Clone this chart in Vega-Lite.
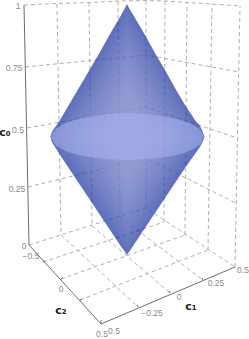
{"$schema":"https://vega.github.io/schema/vega-lite/v6.json","width":249,"height":339,"autosize":{"type":"none"},"padding":0,"background":"white","view":{"stroke":null},"config":{"axis":{"disable":true},"legend":{"disable":true}},
"datasets":{
"grid":[
{"g":"t","x":24,"y":5},{"g":"t","x":57,"y":3.5},{"g":"t","x":89,"y":2.5},{"g":"t","x":120,"y":1},{"g":"t","x":146,"y":0.5},{"g":"t","x":165,"y":1},{"g":"t","x":187,"y":2.5},{"g":"t","x":212,"y":4},{"g":"t","x":240,"y":6},
{"g":"a","x":25,"y":67},{"g":"a","x":146,"y":55},{"g":"a","x":239,"y":72},
{"g":"b","x":27,"y":128},{"g":"b","x":146,"y":107},{"g":"b","x":237,"y":138},
{"g":"c","x":28,"y":187},{"g":"c","x":146,"y":158},{"g":"c","x":236,"y":203},
{"g":"d","x":29,"y":245},{"g":"d","x":146,"y":208},{"g":"d","x":235,"y":267},
{"g":"v1","x":57,"y":4},{"g":"v1","x":61,"y":235},
{"g":"v2","x":89,"y":2.5},{"g":"v2","x":92,"y":226},
{"g":"v3","x":118,"y":1},{"g":"v3","x":120,"y":217},
{"g":"v4","x":146,"y":0.5},{"g":"v4","x":146,"y":208},
{"g":"v5","x":165,"y":1},{"g":"v5","x":164,"y":222},
{"g":"v6","x":187,"y":2.5},{"g":"v6","x":185,"y":235},
{"g":"v7","x":212,"y":4},{"g":"v7","x":208,"y":250},
{"g":"v8","x":240,"y":6},{"g":"v8","x":235,"y":267},
{"g":"f1","x":61,"y":235},{"g":"f1","x":138,"y":307},
{"g":"f2","x":92,"y":226},{"g":"f2","x":170,"y":293},
{"g":"f3","x":120,"y":217},{"g":"f3","x":203,"y":280},
{"g":"f4","x":43,"y":262},{"g":"f4","x":164,"y":222},
{"g":"f5","x":61,"y":279},{"g":"f5","x":185,"y":235},
{"g":"f6","x":80,"y":300},{"g":"f6","x":208,"y":250}
],
"axes":[
{"g":"c0","x":24,"y":5},{"g":"c0","x":29,"y":245},
{"g":"c2","x":29,"y":245},{"g":"c2","x":101,"y":324},
{"g":"c1","x":101,"y":324},{"g":"c1","x":235,"y":267},
{"g":"t1","x":43,"y":262},{"g":"t1","x":45,"y":261},
{"g":"t2","x":61,"y":279},{"g":"t2","x":63,"y":278},
{"g":"t3","x":80,"y":300},{"g":"t3","x":82,"y":299},
{"g":"t4","x":101,"y":324},{"g":"t4","x":101,"y":320},
{"g":"t5","x":138,"y":307},{"g":"t5","x":137,"y":305},
{"g":"t6","x":170,"y":293},{"g":"t6","x":169,"y":291},
{"g":"t7","x":203,"y":280},{"g":"t7","x":202,"y":278}
],
"body":[
{"x":50.5,"top":137,"bot":137},{"x":51.5,"top":133,"bot":141},{"x":53,"top":130,"bot":144},{"x":56,"top":126,"bot":148.5},{"x":60,"top":120,"bot":155},{"x":70,"top":103,"bot":170},{"x":80,"top":86,"bot":185},{"x":90,"top":69,"bot":200},{"x":100,"top":52,"bot":215},{"x":110,"top":34,"bot":230},{"x":120,"top":17,"bot":245},{"x":125,"top":8,"bot":252},{"x":127,"top":4,"bot":255},{"x":129,"top":8,"bot":252},{"x":135,"top":18,"bot":243},{"x":145,"top":35,"bot":228},{"x":155,"top":53,"bot":213},{"x":165,"top":70,"bot":198},{"x":175,"top":88,"bot":183},{"x":185,"top":105,"bot":168},{"x":195,"top":120,"bot":154},{"x":200,"top":126,"bot":147},{"x":202,"top":130,"bot":143},{"x":203.5,"top":134,"bot":140},{"x":204.5,"top":137,"bot":137}
],
"bands":[
{"b":1,"x":54.4,"top":137,"bot":137},{"b":1,"x":127.5,"top":11.6,"bot":249.1},{"b":1,"x":200.6,"top":137,"bot":137},
{"b":2,"x":58.2,"top":137,"bot":137},{"b":2,"x":127.5,"top":18.2,"bot":243.2},{"b":2,"x":196.8,"top":137,"bot":137},
{"b":3,"x":62,"top":137,"bot":137},{"b":3,"x":127.5,"top":24.8,"bot":237.3},{"b":3,"x":193,"top":137,"bot":137},
{"b":4,"x":65.9,"top":137,"bot":137},{"b":4,"x":127.5,"top":31.4,"bot":231.4},{"b":4,"x":189.1,"top":137,"bot":137},
{"b":5,"x":69.8,"top":137,"bot":137},{"b":5,"x":127.5,"top":38,"bot":225.5},{"b":5,"x":185.3,"top":137,"bot":137},
{"b":6,"x":73.6,"top":137,"bot":137},{"b":6,"x":127.5,"top":44.6,"bot":219.6},{"b":6,"x":181.4,"top":137,"bot":137},
{"b":7,"x":77.5,"top":137,"bot":137},{"b":7,"x":127.5,"top":51.2,"bot":213.7},{"b":7,"x":177.6,"top":137,"bot":137},
{"b":8,"x":81.3,"top":137,"bot":137},{"b":8,"x":127.5,"top":57.8,"bot":207.8},{"b":8,"x":173.7,"top":137,"bot":137},
{"b":9,"x":85.2,"top":137,"bot":137},{"b":9,"x":127.5,"top":64.4,"bot":201.9},{"b":9,"x":169.9,"top":137,"bot":137},
{"b":10,"x":89,"top":137,"bot":137},{"b":10,"x":127.5,"top":71,"bot":196},{"b":10,"x":166,"top":137,"bot":137},
{"b":11,"x":92.9,"top":137,"bot":137},{"b":11,"x":127.5,"top":77.6,"bot":190.1},{"b":11,"x":162.2,"top":137,"bot":137},
{"b":12,"x":96.7,"top":137,"bot":137},{"b":12,"x":127.5,"top":84.2,"bot":184.2},{"b":12,"x":158.3,"top":137,"bot":137},
{"b":13,"x":100.6,"top":137,"bot":137},{"b":13,"x":127.5,"top":90.8,"bot":178.3},{"b":13,"x":154.5,"top":137,"bot":137}
],
"disc":[
{"x":51,"top":137,"bot":137},{"x":54,"top":131,"bot":143},{"x":60,"top":126,"bot":148},{"x":70,"top":121.5,"bot":152.5},{"x":83,"top":118,"bot":156},{"x":100,"top":115,"bot":158.5},{"x":115,"top":113.5,"bot":159.5},{"x":127,"top":113,"bot":160},{"x":140,"top":113.5,"bot":159.5},{"x":155,"top":115,"bot":158.5},{"x":172,"top":118,"bot":156},{"x":185,"top":121.5,"bot":152.5},{"x":195,"top":126,"bot":148},{"x":201,"top":131,"bot":143},{"x":204,"top":137,"bot":137}
],
"labels":[
{"t":"1","x":18,"y":5.5},{"t":"0.75","x":14,"y":68},{"t":"0.5","x":18,"y":129.5},{"t":"0.25","x":17,"y":189},{"t":"0","x":24,"y":246},
{"t":"−0.5","x":31,"y":255.5},{"t":"0","x":61,"y":289},{"t":"0.5","x":102,"y":334},{"t":"0.5","x":114,"y":331},
{"t":"−0.25","x":152,"y":313},{"t":"0","x":179,"y":297},{"t":"0.25","x":216,"y":283},{"t":"0.5","x":243,"y":270}
],
"titles":[{"t":"c₀","x":5,"y":133},{"t":"c₂","x":61,"y":311},{"t":"c₁","x":191,"y":307}]
},
"encoding":{"x":{"field":"x","type":"quantitative","scale":{"domain":[0,249],"nice":false,"zero":false},"axis":null},"y":{"field":"y","type":"quantitative","scale":{"domain":[339,0],"nice":false,"zero":false},"axis":null}},
"layer":[
{"data":{"name":"grid"},"mark":{"type":"line","stroke":"#b0b0b0","strokeWidth":1,"strokeDash":[4,3]},"encoding":{"detail":{"field":"g"}}},
{"data":{"name":"body"},"mark":{"type":"area","opacity":0.68,"interpolate":"linear","fill":"#152f9e"},"encoding":{"y":{"field":"top","type":"quantitative","scale":{"domain":[339,0],"nice":false,"zero":false},"axis":null},"y2":{"field":"bot"}}},
{"data":{"name":"bands"},"mark":{"type":"area","opacity":0.055,"interpolate":"linear","fill":"#c4cbe8"},"encoding":{"detail":{"field":"b"},"y":{"field":"top","type":"quantitative","scale":{"domain":[339,0],"nice":false,"zero":false},"axis":null},"y2":{"field":"bot"}}},
{"data":{"name":"disc"},"mark":{"type":"area","opacity":0.55,"interpolate":"monotone","fill":"#a9b5f0"},"encoding":{"y":{"field":"top","type":"quantitative","scale":{"domain":[339,0],"nice":false,"zero":false},"axis":null},"y2":{"field":"bot"}}},
{"data":{"name":"axes"},"mark":{"type":"line","stroke":"#6e6e6e","strokeWidth":1},"encoding":{"detail":{"field":"g"}}},
{"data":{"name":"labels"},"mark":{"type":"text","font":"Liberation Sans","fontSize":8.5,"fill":"#8a8a8a"},"encoding":{"text":{"field":"t"}}},
{"data":{"name":"titles"},"mark":{"type":"text","font":"DejaVu Sans","fontSize":11,"fontWeight":"bold","fill":"#222222"},"encoding":{"text":{"field":"t"}}}
]}
